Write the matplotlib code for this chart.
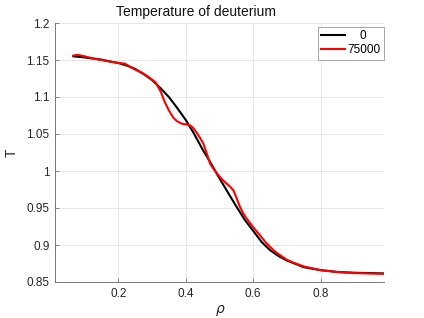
import matplotlib
matplotlib.use("Agg")
import matplotlib.pyplot as plt
from matplotlib.ticker import FormatStrFormatter

plt.rcParams['font.family'] = ['Liberation Sans', 'DejaVu Sans']

# initial profile (t = 0)
rho0 = [0.067, 0.10, 0.125, 0.15, 0.175, 0.20, 0.225, 0.25, 0.275, 0.30, 0.325,
        0.35, 0.375, 0.40, 0.425, 0.45, 0.475, 0.50, 0.525, 0.55, 0.575, 0.60,
        0.625, 0.65, 0.675, 0.70, 0.75, 0.80, 0.85, 0.90, 0.95, 0.99]
T0 = [1.155, 1.1535, 1.152, 1.1505, 1.148, 1.146, 1.1425, 1.138, 1.131, 1.123, 1.112,
      1.100, 1.085, 1.069, 1.050, 1.029, 1.010, 0.990, 0.971, 0.952, 0.934, 0.919,
      0.904, 0.893, 0.885, 0.879, 0.870, 0.866, 0.8635, 0.8625, 0.862, 0.8615]

# profile at t = 75000
rho1 = [0.067, 0.08, 0.10, 0.125, 0.15, 0.175, 0.20, 0.22, 0.25, 0.27, 0.29, 0.31,
        0.325, 0.338, 0.35, 0.363, 0.375, 0.388, 0.40, 0.412, 0.422, 0.432, 0.442,
        0.452, 0.462, 0.472, 0.482, 0.492, 0.501, 0.511, 0.521, 0.531, 0.541, 0.551,
        0.56, 0.57, 0.58, 0.59, 0.60, 0.62, 0.64, 0.66, 0.68, 0.70, 0.72, 0.75,
        0.80, 0.85, 0.90, 0.95, 0.99]
T1 = [1.156, 1.157, 1.155, 1.152, 1.150, 1.148, 1.146, 1.145, 1.137, 1.133, 1.127, 1.120,
      1.108, 1.093, 1.082, 1.072, 1.067, 1.064, 1.063, 1.062, 1.058, 1.052, 1.045,
      1.037, 1.024, 1.010, 1.003, 0.997, 0.992, 0.987, 0.983, 0.979, 0.974, 0.963,
      0.952, 0.943, 0.936, 0.930, 0.924, 0.913, 0.902, 0.893, 0.886, 0.880, 0.876, 0.871,
      0.866, 0.8635, 0.862, 0.8615, 0.8612]

labels = ["    0", "75000"]
xticks = [0.2, 0.4, 0.6, 0.8]
yticks = [0.85, 0.9, 0.95, 1.0, 1.05, 1.1, 1.15, 1.2]

fig = plt.figure(figsize=(4.24, 3.18), dpi=100)
ax = fig.add_axes([55/424, 1-282/318, 329/424, 259/318])

ax.plot(rho0, T0, color='k', lw=1.5, label=labels[0])
ax.plot(rho1, T1, color='#ff0000', lw=1.5, label=labels[1])

ax.set_xlim(0.0125, 0.9875)
ax.set_ylim(0.85, 1.2)
ax.set_xticks(xticks)
ax.set_yticks(yticks)
ax.yaxis.set_major_formatter(FormatStrFormatter('%g'))
ax.xaxis.set_major_formatter(FormatStrFormatter('%g'))
ax.grid(True, color='#e3e3e3', lw=0.6)
ax.set_axisbelow(True)
for s in ['top', 'right']:
    ax.spines[s].set_visible(False)
for s in ['left', 'bottom']:
    ax.spines[s].set_color('#777777')
    ax.spines[s].set_linewidth(0.7)
ax.tick_params(direction='in', length=3, width=0.6, color='#777777',
               labelsize=8.5, labelcolor='#262626', pad=4)

fig.text(220/424, 1-311/318, r'$\rho$', fontsize=10, color='#262626',
         ha='center', va='center')
fig.text(12/424, 1-153/318, 'T', fontsize=10, color='#262626',
         ha='center', va='center', rotation=90)
fig.text(196/424, 1-12/318, 'Temperature of deuterium', fontsize=10,
         color='#111111', ha='center', va='center')

leg = ax.legend(loc='upper right', bbox_to_anchor=(1.0, 0.985), fontsize=8.5,
                handlelength=2.0, handletextpad=0.2, borderpad=0.3,
                labelspacing=0.15, borderaxespad=0, fancybox=False, framealpha=1)
leg.get_frame().set_edgecolor('#999999')
leg.get_frame().set_linewidth(0.6)

fig.savefig('out.png', dpi=100)
